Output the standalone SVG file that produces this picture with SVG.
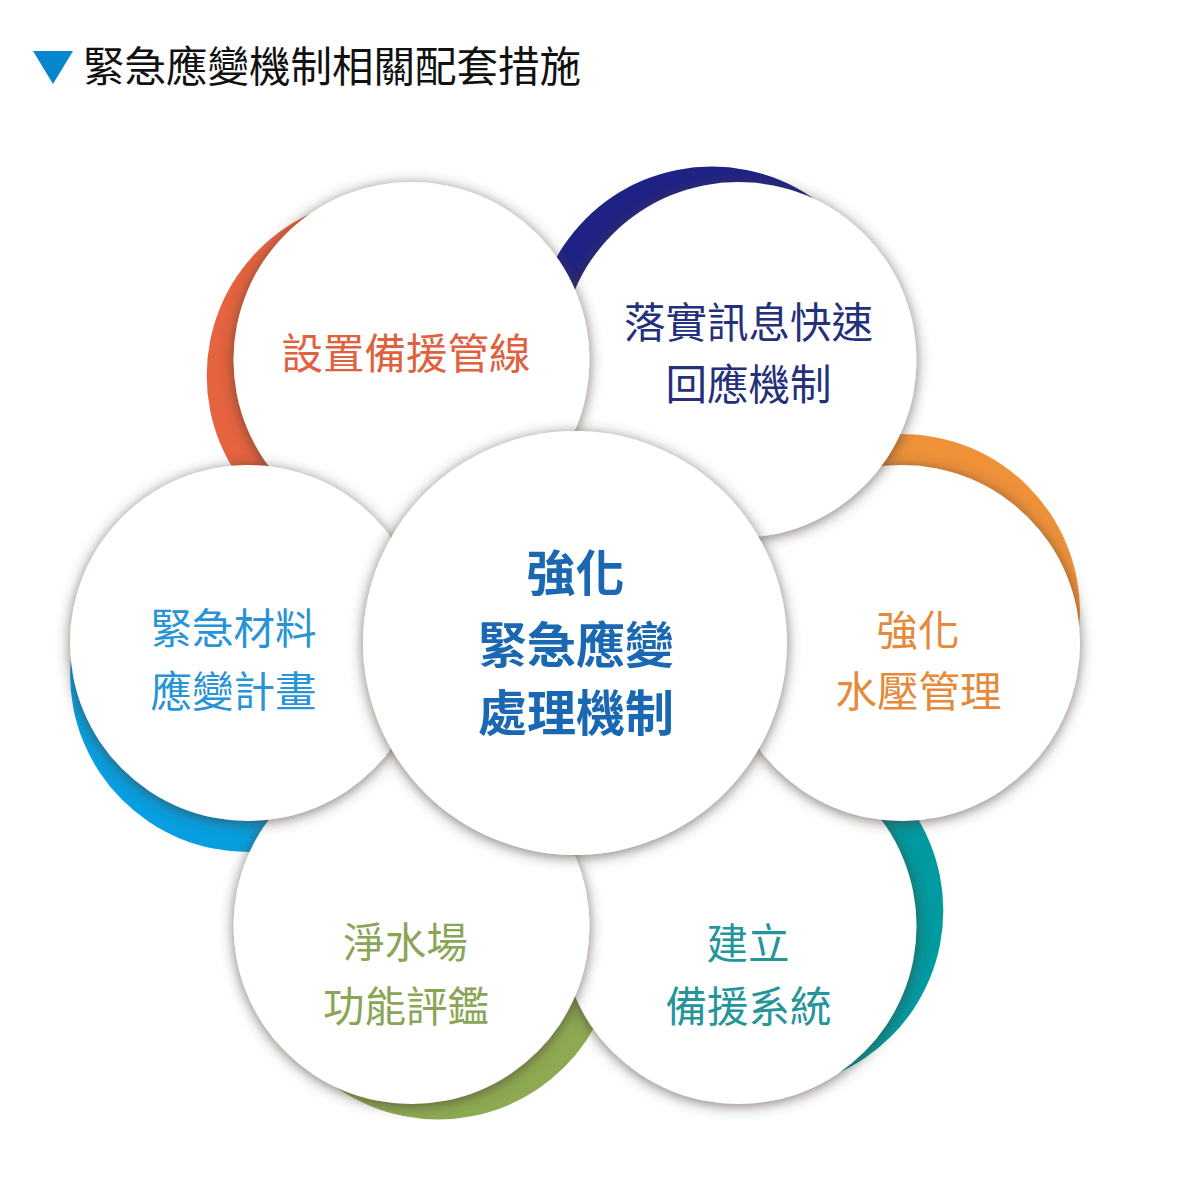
<svg xmlns="http://www.w3.org/2000/svg" width="1197" height="1188" viewBox="0 0 1197 1188">
<defs>
<filter id="sh" x="-20%" y="-20%" width="140%" height="140%">
<feDropShadow dx="0" dy="2" stdDeviation="7" flood-color="#4a3a35" flood-opacity="0.7"/>
</filter>
</defs>
<style>
.w{fill:#ffffff;filter:url(#sh)}
.t{font-family:"Noto Sans CJK TC","Noto Sans CJK SC",sans-serif;font-size:41.5px;text-anchor:middle}
.c{font-family:"Noto Sans CJK TC","Noto Sans CJK SC",sans-serif;font-size:49px;font-weight:700;text-anchor:middle;fill:#1B68B2}
</style>
<rect width="1197" height="1188" fill="#ffffff"/>
<g id="title">
<polygon points="33,51 73,51 53,84" fill="#0586CD"/>
<text x="83" y="82" style="font-family:'Noto Sans CJK TC','Noto Sans CJK SC',sans-serif;font-size:41.5px" fill="#111111">緊急應變機制相關配套措施</text>
</g>
<g id="accents">
<circle cx="765.3" cy="910.5" r="178" fill="#009AA0"/>
<circle cx="902" cy="612" r="178" fill="#EF9139"/>
<circle cx="711.7" cy="344.5" r="178" fill="#1F2285"/>
<circle cx="384.7" cy="375.5" r="178" fill="#E5633F"/>
<circle cx="438.3" cy="941.5" r="178" fill="#8DAA52"/>
<circle cx="248" cy="674" r="178" fill="#079FE0"/>
</g>
<g id="node-backup-system">
<circle class="w" cx="738.5" cy="926" r="178"/>
<text class="t" fill="#26949B"><tspan x="748" y="959">建立</tspan><tspan x="748.5" y="1021.5">備援系統</tspan></text>
</g>
<g id="node-water-pressure">
<circle class="w" cx="902" cy="643" r="178"/>
<text class="t" fill="#E48A3A"><tspan x="918" y="645.5">強化</tspan><tspan x="918.5" y="706.5">水壓管理</tspan></text>
</g>
<g id="node-info-response">
<circle class="w" cx="738.5" cy="360" r="178"/>
<text class="t" fill="#25307B"><tspan x="748.5" y="337.5">落實訊息快速</tspan><tspan x="748.5" y="399.5">回應機制</tspan></text>
</g>
<g id="node-backup-pipeline">
<circle class="w" cx="411.5" cy="360" r="178"/>
<text class="t" fill="#E0613F" x="406" y="369">設置備援管線</text>
</g>
<g id="node-plant-evaluation">
<circle class="w" cx="411.5" cy="926" r="178"/>
<text class="t" fill="#8AA556"><tspan x="405.5" y="958">淨水場</tspan><tspan x="406" y="1021.5">功能評鑑</tspan></text>
</g>
<g id="node-materials-plan">
<circle class="w" cx="248" cy="643" r="178"/>
<text class="t" fill="#2894D5"><tspan x="233.5" y="644">緊急材料</tspan><tspan x="233.5" y="706.5">應變計畫</tspan></text>
</g>
<g id="node-center">
<circle class="w" cx="575" cy="643" r="212"/>
<text class="c"><tspan x="575.5" y="590.5">強化</tspan><tspan x="576" y="662.5">緊急應變</tspan><tspan x="576" y="730.5">處理機制</tspan></text>
</g>
</svg>
